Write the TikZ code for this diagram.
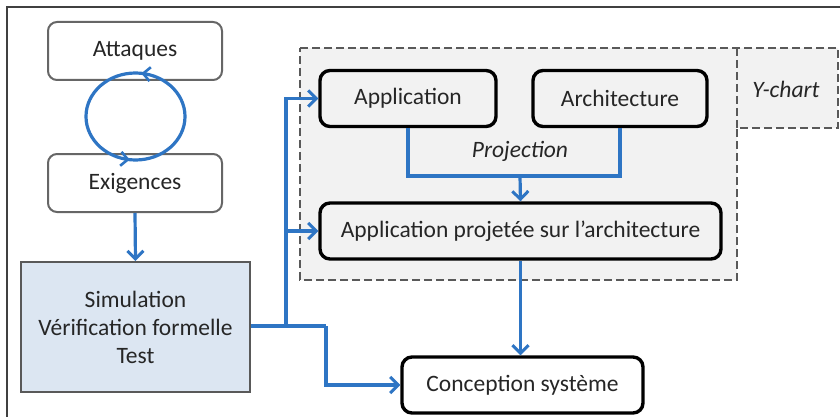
\documentclass[tikz,border=0pt]{standalone}
\usepackage{fontspec}
\setmainfont{Carlito}
\usetikzlibrary{arrows.meta,decorations.markings,calc}
\definecolor{lblue}{HTML}{2E75C4}
\definecolor{simfill}{HTML}{DCE6F2}
\definecolor{ygray}{HTML}{F2F2F2}
\definecolor{txt}{HTML}{262626}
\tikzset{
  grayround/.style={draw=black!60, line width=2pt, rounded corners=9pt, fill=white, minimum width=174pt, minimum height=58pt, text=txt, font=\fontsize{23.5}{28}\selectfont},
  blackround/.style={draw=black, line width=3.4pt, rounded corners=10pt, fill=ygray, minimum height=56pt, text=txt, font=\fontsize{23.5}{28}\selectfont},
  conn/.style={draw=lblue, line width=3.2pt},
  arr/.style={conn, -{Straight Barb[length=8pt, width=16pt, line width=3pt]}},
  dashbox/.style={draw=black!65, line width=2.2pt, dash pattern=on 8pt off 4pt, fill=ygray},
}
\begin{document}
\begin{tikzpicture}[x=1pt, y=-1pt]
\useasboundingbox (0,0) rectangle (840,417);
\fill[white] (0,0) rectangle (840,417);
\draw[black!75, line width=2pt] (7,417) -- (7,7) -- (840,7);

% Y-chart region
\path[dashbox] (300,48) -- (838,48) -- (838,128) -- (737,128) -- (737,280) -- (300,280) -- cycle;
\draw[black!65, line width=2.2pt, dash pattern=on 8pt off 4pt] (737,48) -- (737,128);
\node[text=txt, font=\fontsize{23.5}{28}\selectfont\itshape] (ychart) at (786,89) {Y-chart};

% left column
\node[grayround] (att) at (135,51) {Attaques};
\node[grayround] (exi) at (135,183) {Exigences};
\node[draw=black!65, line width=2pt, fill=simfill, minimum width=229pt, minimum height=130pt, align=center, text=txt, font=\fontsize{23.5}{28}\selectfont] (sim) at (135.5,327) {Simulation\\Vérification formelle\\Test};

\coordinate (loopc) at (135.5,116.5);
\draw[conn, decoration={markings,
   mark=at position 0.23 with {\arrow{Straight Barb[length=7pt, width=14pt, line width=2.6pt]}},
   mark=at position 0.73 with {\arrow{Straight Barb[length=7pt, width=14pt, line width=2.6pt]}}},
   postaction={decorate}] (loopc) ellipse [x radius=49.5pt, y radius=43.5pt];

\draw[arr] (exi.south) -- (sim.north);

% Y-chart boxes
\node[blackround, minimum width=176pt] (app) at (408,98.5) {Application};
\node[blackround, minimum width=174pt] (arch) at (620,98.5) {Architecture};
\node[blackround, minimum width=401pt] (proj) at (520.5,231) {Application projetée sur l’architecture};
\node[text=txt, font=\fontsize{23.5}{28}\selectfont\itshape] (projlbl) at (520,151) {Projection};
\node[blackround, fill=white, minimum width=241pt] (conc) at (522.5,385) {Conception système};

% connectors
\coordinate (pm) at (520,176);
\draw[conn] (app.south) -- (app.south|-pm) -- (arch.south|-pm) -- (arch.south);
\draw[arr] (pm) -- (proj.north);
\draw[arr] (proj.south) -- (proj.south|-conc.north);

\coordinate (j) at (286,326);
\coordinate (k) at (326,326);
\draw[conn] (sim.east|-j) -- (k);
\draw[arr] (j) |- (app.west);
\draw[arr] (j|-proj.west) -- (proj.west);
\draw[arr] (k) |- (conc.west);
\end{tikzpicture}
\end{document}
